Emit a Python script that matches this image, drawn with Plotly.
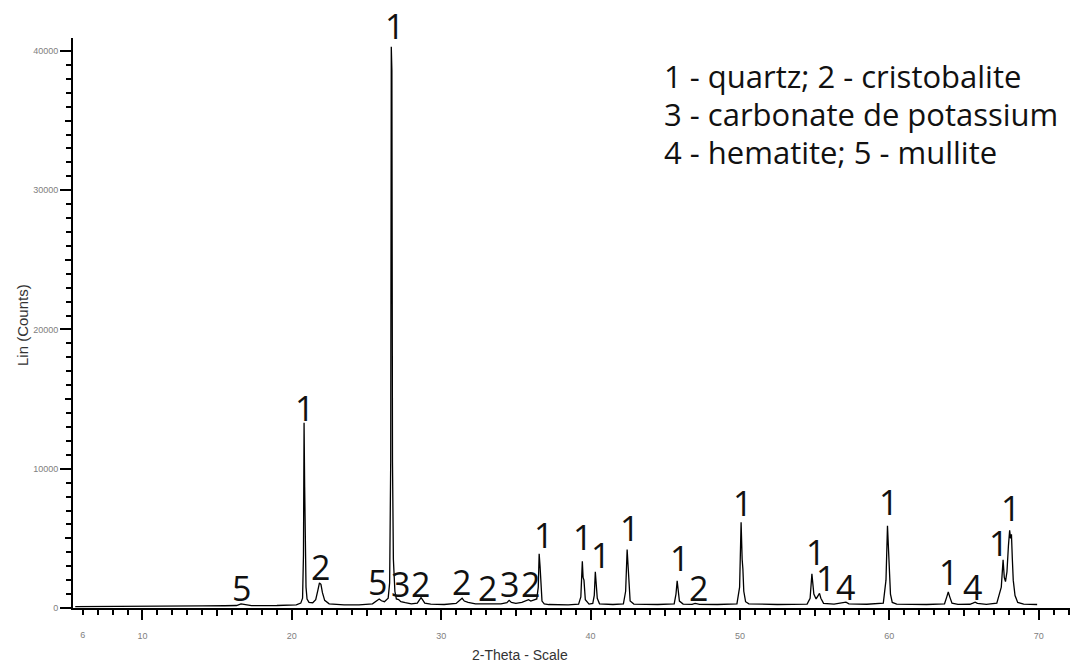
import plotly.graph_objects as go

# ---- diffraction pattern ----
two_theta = [
    5.5, 8, 10, 12, 14, 15.5, 16.3, 16.6, 16.9, 17.3, 19, 20.3,
    20.6, 20.72, 20.78, 20.82, 20.86, 20.90, 20.95, 21.02, 21.15, 21.4,
    21.6, 21.75, 21.85, 21.95, 22.05, 22.2, 22.5, 23.5, 24.5, 25.4,
    25.7, 25.85, 26.0, 26.2, 26.45, 26.55, 26.62, 26.66, 26.70, 26.74,
    26.8, 26.9, 27.0, 27.15, 27.3, 27.6, 28.0, 28.4,
    28.55, 28.65, 28.75, 28.9, 29.3, 30.2, 31.0, 31.25, 31.4, 31.55,
    31.8, 32.3, 33.2, 34.0, 34.4, 34.55, 34.7, 35.0, 35.4, 35.7,
    35.85, 36.0, 36.2, 36.4, 36.5, 36.56, 36.62, 36.68, 36.75, 36.9,
    37.2, 38.5, 39.2, 39.35, 39.45, 39.5, 39.56, 39.65, 39.9, 40.15,
    40.25, 40.32, 40.38, 40.45, 40.6, 41.5, 42.2, 42.35, 42.45, 42.5,
    42.56, 42.65, 42.9, 44.5, 45.6, 45.72, 45.8, 45.86, 45.95, 46.2,
    46.8, 47.0, 47.3, 48.5, 49.8, 49.98, 50.08, 50.15, 50.2, 50.26,
    50.38, 50.6, 52.5, 54.5, 54.7, 54.82, 54.88, 54.95, 55.1, 55.25,
    55.33, 55.42, 55.6, 56.3, 56.9, 57.1, 57.3, 58.5, 59.6, 59.78,
    59.88, 59.94, 60.0, 60.08, 60.2, 60.5, 62.5, 63.7, 63.85, 63.95,
    64.05, 64.2, 64.6, 65.4, 65.6, 65.75, 65.9, 66.5, 67.2, 67.5,
    67.62, 67.7, 67.78, 67.88, 67.98, 68.06, 68.12, 68.18, 68.24, 68.3,
    68.42, 68.6, 69.0, 69.5, 69.9,
]
counts = [
    100, 100, 120, 120, 150, 160, 180, 300, 250, 170, 180, 220,
    350, 700, 3800, 13300, 8700, 4000, 1500, 650, 400, 380,
    600, 1300, 1800, 1700, 1100, 550, 300, 220, 230, 300,
    500, 650, 520, 450, 700, 1800, 10500, 40300, 38600, 10500,
    3500, 1200, 650, 600, 450, 380, 300, 350,
    550, 750, 600, 350, 280, 250, 330, 550, 700, 500,
    400, 300, 280, 300, 380, 550, 400, 330, 400, 500,
    600, 500, 550, 650, 1500, 3900, 3000, 1200, 500, 300,
    250, 230, 280, 800, 3350, 2200, 2000, 600, 280, 330,
    900, 2600, 1800, 700, 300, 250, 300, 1200, 4200, 3300,
    1500, 500, 280, 250, 300, 1000, 1950, 1200, 500, 280,
    260, 330, 260, 250, 300, 1500, 6150, 3500, 2800, 1200,
    450, 300, 250, 280, 700, 2450, 1800, 1000, 650, 900,
    1050, 700, 330, 280, 350, 420, 300, 270, 350, 2000,
    5900, 4000, 2800, 1000, 400, 280, 250, 300, 800, 1150,
    800, 350, 260, 270, 350, 420, 330, 260, 350, 1500,
    3470, 2200, 1900, 2600, 4500, 5580, 5000, 5290, 3500, 2000,
    900, 400, 280, 250, 250,
]
assert len(two_theta) == len(counts)

# ---- phase labels on peaks ----
label_text = ["1", "5", "1", "2", "5", "3", "2", "2", "2", "3", "2", "1",
              "1", "1", "1", "1", "2", "1", "1", "1", "4", "1", "1", "4",
              "1", "1"]
label_x = [26.85, 16.6, 20.84, 21.92, 25.72, 27.3, 28.64, 31.38, 33.12, 34.6,
           35.95, 36.86, 39.43, 40.68, 42.6, 45.93, 47.24, 50.19, 55.05,
           55.72, 57.09, 59.92, 63.95, 65.58, 67.33, 68.12]
label_y = [41800, 1410, 14360, 2970, 1890, 1720, 1720, 1890, 1410, 1720,
           1720, 5240, 5120, 3800, 5740, 3590, 1430, 7540, 4040, 2150,
           1530, 7630, 2610, 1530, 4670, 7180]

legend_lines = ["1 - quartz; 2 - cristobalite",
                "3 - carbonate de potassium",
                "4 - hematite; 5 - mullite"]

x_mid = [15, 25, 35, 45, 55, 65]
x_first = [6]
y_mid = [5000, 15000, 25000, 35000]

X_RANGE = [5.35, 72.1]
Y_RANGE = [0, 40930]

fig = go.Figure()
fig.add_trace(go.Scatter(x=two_theta, y=counts, mode="lines",
                         line=dict(color="black", width=1.3), showlegend=False,
                         hoverinfo="skip"))
# empty traces so the overlay axes (medium ticks, first label) are drawn
fig.add_trace(go.Scatter(x=[None], y=[None], xaxis="x2", yaxis="y2", showlegend=False))
fig.add_trace(go.Scatter(x=[None], y=[None], xaxis="x3", yaxis="y", showlegend=False))

tickfont = dict(family="Arial", size=9, color="#808080")
LABEL_FONT = "Open Sans"

for t, xv, yv in zip(label_text, label_x, label_y):
    fig.add_annotation(x=xv, y=yv / Y_RANGE[1], text=t, showarrow=False,
                       xref="x", yref="paper",
                       font=dict(family=LABEL_FONT, size=34, color="#111111"),
                       xanchor="center", yanchor="middle")

legend_y_px = [76, 114, 152]
for line, ypx in zip(legend_lines, legend_y_px):
    fig.add_annotation(x=(662 - 73) / 997, y=(608 - ypx) / 570, xref="paper", yref="paper",
                       text=line, showarrow=False, xanchor="left", yanchor="middle",
                       font=dict(family=LABEL_FONT, size=31, color="#111111"))

fig.add_annotation(x=(520 - 73) / 997, y=(608 - 655) / 570, xref="paper", yref="paper",
                   text="2-Theta - Scale", showarrow=False, xanchor="center", yanchor="middle",
                   font=dict(family="Arial", size=14, color="#333333"))
fig.add_annotation(x=(22 - 73) / 997, y=(608 - 325) / 570, xref="paper", yref="paper",
                   text="Lin (Counts)", showarrow=False, textangle=-90,
                   xanchor="center", yanchor="middle",
                   font=dict(family="Arial", size=15, color="#333333"))

AX = dict(showgrid=False, zeroline=False)
fig.update_layout(
    width=1070, height=671,
    margin=dict(l=73, r=0, t=38, b=63),
    paper_bgcolor="white", plot_bgcolor="white",
    showlegend=False,
    xaxis=dict(range=X_RANGE, **AX,
               showline=True, linecolor="black", linewidth=2,
               tickmode="linear", tick0=0, dtick=10,
               ticks="outside", ticklen=10, tickwidth=1.6, tickcolor="black",
               tickfont=tickfont, ticklabelstandoff=8,
               minor=dict(dtick=1, tick0=0, ticks="outside", ticklen=5,
                          tickwidth=1.5, tickcolor="black", showgrid=False)),
    xaxis2=dict(range=X_RANGE, overlaying="x", anchor="y", **AX, showline=False,
                tickmode="array", tickvals=x_mid,
                ticks="outside", ticklen=7, tickwidth=1.5, tickcolor="black",
                showticklabels=False),
    xaxis3=dict(range=X_RANGE, overlaying="x", anchor="y", **AX, showline=False,
                tickmode="array", tickvals=x_first,
                ticktext=[str(v) for v in x_first],
                ticks="outside", ticklen=5, tickwidth=1.5, tickcolor="black",
                tickfont=tickfont, ticklabelstandoff=13),
    yaxis=dict(range=Y_RANGE, **AX,
               showline=True, linecolor="black", linewidth=2,
               tickmode="linear", tick0=0, dtick=10000,
               ticks="outside", ticklen=11, tickwidth=1.6, tickcolor="black",
               tickfont=tickfont, tickformat="d",
               minor=dict(dtick=1000, tick0=0, ticks="outside", ticklen=5,
                          tickwidth=1.5, tickcolor="black", showgrid=False)),
    yaxis2=dict(range=Y_RANGE, overlaying="y", anchor="x", side="left", **AX,
                showline=False, tickmode="array", tickvals=y_mid,
                ticks="outside", ticklen=7, tickwidth=1.5, tickcolor="black",
                showticklabels=False),
)

fig.write_html("out.html")
